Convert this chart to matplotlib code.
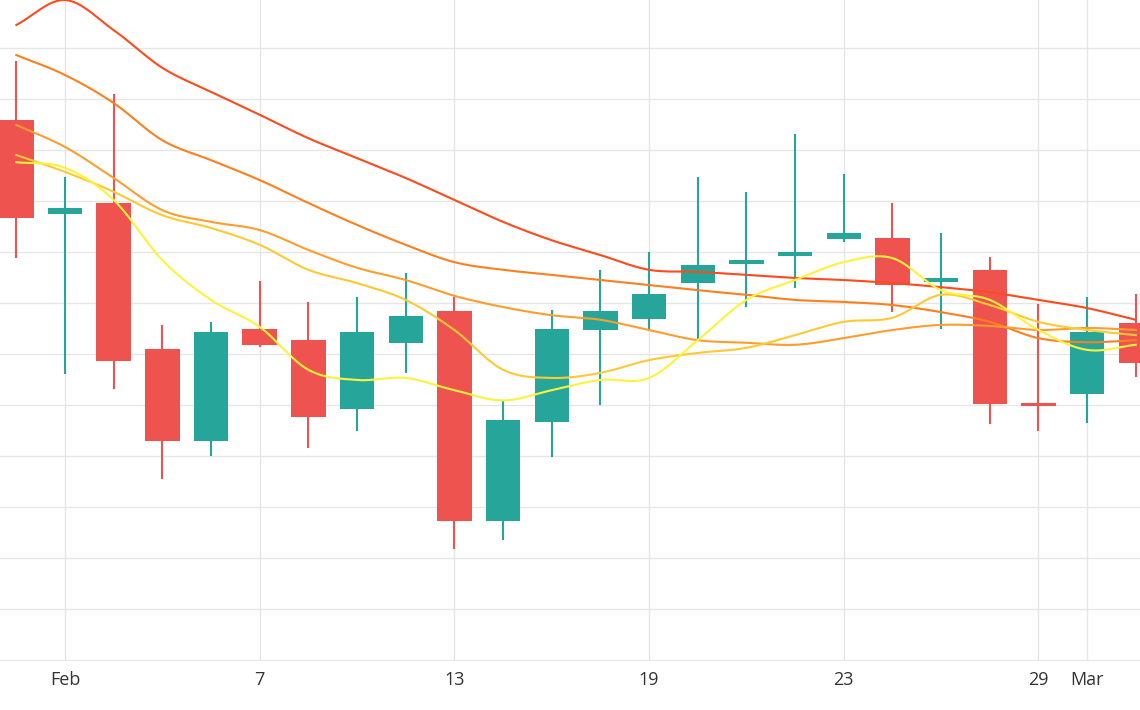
import matplotlib
matplotlib.use("Agg")
import matplotlib.pyplot as plt
import numpy as np

# candle positions (one slot per candle)
pos = [-0.5 + 1.5 * i for i in range(24)]
opens  = [105.9,87.4,89.6,61.0,42.9,64.9,62.7,49.2,62.1,68.4,27.3,46.7,64.7,66.9,73.9,77.6,79.2,82.5,82.7,74.1,76.5,50.2,52.1,66.1]
closes = [86.7,88.6,58.6,42.9,64.3,61.8,47.6,64.3,67.4,27.3,47.1,64.9,68.4,71.8,77.4,78.4,80.0,83.7,73.5,74.9,50.2,49.8,64.3,58.2]
highs  = [117.2,94.5,110.8,65.5,66.1,74.1,70.0,71.0,75.7,71.0,50.6,68.4,76.3,79.8,94.5,91.6,102.9,95.1,89.4,83.5,78.8,69.6,71.0,71.6]
lows   = [79.0,56.3,53.3,35.7,40.2,61.6,41.8,45.1,56.5,21.9,23.7,40.0,50.2,64.7,63.1,69.4,73.1,82.1,68.4,65.1,46.5,45.1,46.7,55.7]

ma_red    = [124.5,129.4,123.5,116.1,111.4,106.9,102.3,98.4,94.5,90.2,85.9,82.3,79.4,76.5,76.1,75.5,74.9,74.5,73.9,73.1,72.1,70.6,69.0,66.7]
ma_orange = [118.6,114.7,109.2,101.9,98.0,94.1,89.6,85.3,81.4,78.0,76.5,75.5,74.5,73.5,72.5,71.6,70.6,70.2,69.6,68.2,66.3,63.1,62.3,62.7]
ma_lorange= [104.9,100.6,94.5,88.2,85.9,84.3,80.4,76.9,74.5,71.4,69.2,67.6,66.7,64.7,62.7,62.2,61.8,63.1,64.7,65.7,65.5,64.7,65.1,64.7]
ma_gold   = [99.0,95.7,91.8,87.2,84.7,81.4,76.5,73.9,70.6,64.7,56.9,55.3,56.3,58.8,60.2,61.2,63.7,66.3,67.1,71.6,69.6,66.3,64.7,63.7]
ma_yellow = [97.6,96.5,90.2,78.4,70.6,65.3,56.9,54.9,55.3,52.9,50.9,52.9,54.9,55.3,62.7,70.6,74.5,78.0,78.8,72.5,70.6,64.7,60.8,61.8]

tick_idx = [1, 5, 9, 13, 17, 21, 22]
tick_labels = ["Feb", "7", "13", "19", "23", "29", "Mar"]

def smooth(x, y, n=12):
    x = np.asarray(x, float); y = np.asarray(y, float)
    P = np.concatenate([[2*y[0]-y[1]], y, [2*y[-1]-y[-2]]])
    X = np.concatenate([[2*x[0]-x[1]], x, [2*x[-1]-x[-2]]])
    xs, ys = [], []
    for i in range(1, len(P)-2):
        t = np.linspace(0, 1, n, endpoint=False)
        for A, out in ((X, xs), (P, ys)):
            p0, p1, p2, p3 = A[i-1], A[i], A[i+1], A[i+2]
            out.extend(0.5*((2*p1) + (-p0+p2)*t + (2*p0-5*p1+4*p2-p3)*t**2 + (-p0+3*p1-3*p2+p3)*t**3))
    xs.append(x[-1]); ys.append(y[-1])
    return xs, ys

plt.rcParams['font.family'] = ['Open Sans', 'DejaVu Sans']
fig = plt.figure(figsize=(11.4, 7.1), dpi=100)
ax = fig.add_axes([0, 50/710, 1, 660/710])
ax.set_xlim(-1.003, 34.13)
ax.set_ylim(0, 129.4)

tick_pos = [pos[i] for i in tick_idx]
for t in tick_pos:
    ax.axvline(t, color="#e6e6e6", lw=1, zorder=0)
for g in range(10, 130, 10):
    ax.axhline(g, color="#e6e6e6", lw=1, zorder=0)

for x, o, c, h, l in zip(pos, opens, closes, highs, lows):
    col = "#26a69a" if c >= o else "#ef5350"
    ax.plot([x, x], [l, h], color=col, lw=1.5, zorder=2)
    b = min(o, c); hgt = max(abs(c - o), 0.6)
    ax.add_patch(plt.Rectangle((x - 0.53, b), 1.06, hgt, color=col, zorder=3, lw=0))

for ys, col in [(ma_red, "#ff4a1c"), (ma_orange, "#ff7f1e"), (ma_lorange, "#ff9d2e"),
                (ma_gold, "#ffc933"), (ma_yellow, "#fff23a")]:
    sx, sy = smooth(pos, ys)
    ax.plot(sx, sy, color=col, lw=1.5, zorder=4)

ax.set_xticks(tick_pos)
ax.set_xticklabels(tick_labels, fontsize=13, color="#333333")
ax.set_yticks([])
for s in ["top", "right", "left"]:
    ax.spines[s].set_visible(False)
ax.spines["bottom"].set_color("#e6e6e6")
ax.tick_params(axis="x", length=0, pad=8)
fig.savefig("out.png", dpi=100)
